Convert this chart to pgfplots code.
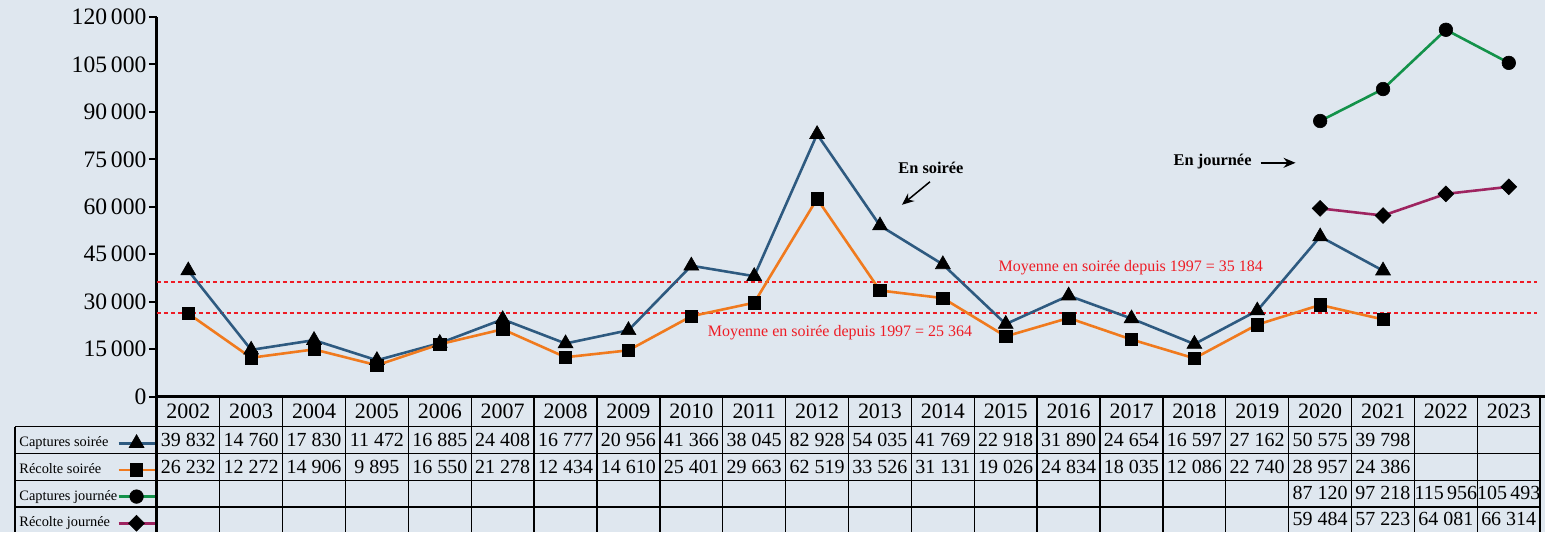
\documentclass[border=0pt]{standalone}
\usepackage{pgfplots}
\pgfplotsset{compat=1.18}
\usepackage{pgfplotstable}
\usepackage{fontspec}
\setmainfont{Liberation Serif}
\usetikzlibrary{arrows.meta}

\definecolor{bg}{HTML}{DFE7EF}
\definecolor{cblue}{HTML}{2E5A80}
\definecolor{corange}{HTML}{F07A1E}
\definecolor{cgreen}{HTML}{13924A}
\definecolor{cpurple}{HTML}{9E2460}
\definecolor{cred}{HTML}{EE1C25}

% x = index (0 = 2002), cs/rs = soirée, cj/rj = journée
\pgfplotstableread{
x cs rs cj rj
0 39832 26232 nan nan
1 14760 12272 nan nan
2 17830 14906 nan nan
3 11472 9895 nan nan
4 16885 16550 nan nan
5 24408 21278 nan nan
6 16777 12434 nan nan
7 20956 14610 nan nan
8 41366 25401 nan nan
9 38045 29663 nan nan
10 82928 62519 nan nan
11 54035 33526 nan nan
12 41769 31131 nan nan
13 22918 19026 nan nan
14 31890 24834 nan nan
15 24654 18035 nan nan
16 16597 12086 nan nan
17 27162 22740 nan nan
18 50575 28957 87120 59484
19 39798 24386 97218 57223
20 nan nan 115956 64081
21 nan nan 105493 66314
}\data

\def\cw{62.95}

\begin{document}
\begin{tikzpicture}
\begin{scope}[x=0.5pt,y=-0.5pt]
  \fill[bg] (0,0) rectangle (1547,533);
\end{scope}

\begin{axis}[
  at={(78.5pt,-198.5pt)}, anchor=south west,
  width=692.5pt, height=190pt, scale only axis,
  xmin=-0.5, xmax=21.5, ymin=0, ymax=120000,
  axis x line*=bottom, axis y line*=left,
  axis line style={-, line width=1.6pt, black},
  xtick={0,...,21},
  xticklabels={2002,2003,2004,2005,2006,2007,2008,2009,2010,2011,2012,2013,2014,2015,2016,2017,2018,2019,2020,2021,2022,2023},
  major x tick style={draw=none},
  xticklabel style={font=\fontsize{11}{12}\selectfont, anchor=base, yshift=-10.9pt},
  ytick={0,15000,...,120000},
  ytick align=outside, major tick length=4pt,
  major y tick style={line width=1pt, black},
  scaled y ticks=false,
  yticklabel style={font=\fontsize{11.8}{13}\selectfont, xshift=2.3pt,
    /pgf/number format/.cd, fixed, precision=0, 1000 sep={\,}, assume math mode=true},
  clip=false,
  legend plot pos=right,
  legend cell align=left,
  legend style={at={(-0.0996,-0.0868)}, anchor=north west, draw=none, fill=none,
    inner sep=0pt, row sep=0pt, column sep=0pt,
    font=\fontsize{7.2}{8}\selectfont,
    nodes={inner sep=0pt, minimum height=13.35pt}},
  legend image code/.code={\draw[mark repeat=2,mark phase=2,#1] plot coordinates {(0pt,0pt)(9pt,0pt)(18pt,0pt)};},
]
\addplot[forget plot, cred, line width=1pt, dash pattern=on 2pt off 1.5pt] coordinates {(-0.5,36100) (21.45,36100)};
\addplot[forget plot, cred, line width=1pt, dash pattern=on 2pt off 1.5pt] coordinates {(-0.5,26500) (21.45,26500)};

\addplot[cblue, line width=1.3pt, mark=triangle*, mark size=4.3pt, mark options={black, fill=black, line width=0.3pt}] table[x=x, y=cs] {\data};
\addplot[corange, line width=1.3pt, mark=square*, mark size=3.1pt, mark options={black, fill=black, line width=0.3pt}] table[x=x, y=rs] {\data};
\addplot[cgreen, line width=1.3pt, mark=*, mark size=3.4pt, mark options={black, fill=black, line width=0.3pt}] table[x=x, y=cj] {\data};
\addplot[cpurple, line width=1.3pt, mark=square*, mark size=2.8pt, mark options={black, fill=black, line width=0.3pt, rotate=45}] table[x=x, y=rj] {\data};
\legend{Captures soirée, Récolte soirée, Captures journée, Récolte journée}
\end{axis}

\begin{scope}[x=0.5pt,y=-0.5pt]
  % annotations
  \node[font=\bfseries\fontsize{8.2}{9}\selectfont] at (932,168) {En soirée};
  \draw[-{Stealth[length=6pt,width=5pt]}, line width=0.75pt] (931,182) -- (903,205);
  \node[font=\bfseries\fontsize{8.2}{9}\selectfont] at (1214,162) {En journée};
  \draw[-{Stealth[length=6pt,width=5pt]}, line width=0.75pt] (1262,163) -- (1297,163);
  \node[cred, font=\fontsize{8}{9}\selectfont] at (1132,268) {Moyenne en soirée depuis 1997 = 35 184};
  \node[cred, font=\fontsize{8}{9}\selectfont] at (841,333) {Moyenne en soirée depuis 1997 = 25 364};

  % table grid
  \foreach \yy in {427,454,481,507.5}
    \draw[line width=0.7pt] (15,\yy) -- (1542,\yy);
  \draw[line width=0.7pt] (15,427) -- (15,533);
  \draw[line width=1.4pt] (157,397) -- (157,533);
  \draw[line width=1.6pt] (1540,397) -- (1547,397);
  \foreach \i in {1,...,22}
    \draw[line width=0.7pt] ({157+\i*\cw},397) -- ({157+\i*\cw},533);

  % table values
  \begin{scope}[font=\fontsize{10}{11}\selectfont]
  \foreach \v [count=\i from 0] in {39 832,14 760,17 830,11 472,16 885,24 408,16 777,20 956,41 366,38 045,82 928,54 035,41 769,22 918,31 890,24 654,16 597,27 162,50 575,39 798}
    \node at ({157+(\i+0.5)*\cw},440.5) {\v};
  \foreach \v [count=\i from 0] in {26 232,12 272,14 906,9 895,16 550,21 278,12 434,14 610,25 401,29 663,62 519,33 526,31 131,19 026,24 834,18 035,12 086,22 740,28 957,24 386}
    \node at ({157+(\i+0.5)*\cw},467.5) {\v};
  \node at ({157+18.5*\cw},494) {87 120};
  \node at ({157+19.5*\cw},494) {97 218};
  \node at ({157+20.5*\cw},494) {115\,956};
  \node at ({157+21.5*\cw},494) {105\,493};
  \node at ({157+18.5*\cw},520) {59 484};
  \node at ({157+19.5*\cw},520) {57 223};
  \node at ({157+20.5*\cw},520) {64 081};
  \node at ({157+21.5*\cw},520) {66 314};
  \end{scope}
\end{scope}
\end{tikzpicture}
\end{document}
